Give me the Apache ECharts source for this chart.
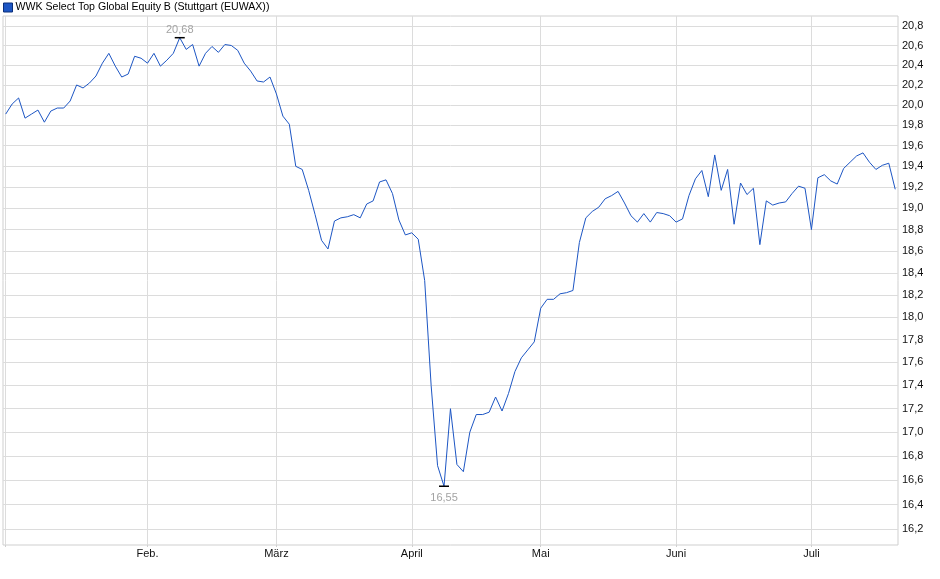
<!DOCTYPE html>
<html>
<head>
<meta charset="utf-8">
<script src="https://cdn.jsdelivr.net/npm/echarts@6/dist/echarts.min.js"></script>
<style>
html,body{margin:0;padding:0;background:#fff;}
#chart{width:940px;height:579px;}
</style>
</head>
<body>
<div id="chart"></div>
<script>
// Daily closing prices, trading days from 2 Jan to 18 Jul
var seriesName = 'WWK Select Top Global Equity B (Stuttgart (EUWAX))';
var values = [
 19.91,20.01,20.07,19.87,19.91,19.95,19.83,19.94,19.97,19.97,
 20.04,20.20,20.17,20.22,20.29,20.42,20.52,20.39,20.28,20.31,
 20.49,20.47,20.42,20.52,20.39,20.45,20.52,20.68,20.56,20.61,
 20.39,20.52,20.59,20.53,20.61,20.60,20.55,20.42,20.34,20.24,
 20.23,20.28,20.11,19.89,19.81,19.40,19.37,19.17,18.94,18.70,
 18.62,18.88,18.91,18.92,18.94,18.91,19.04,19.07,19.25,19.27,
 19.14,18.89,18.75,18.77,18.71,18.33,17.40,16.72,16.55,17.20,
 16.73,16.67,17.00,17.15,17.15,17.17,17.30,17.18,17.33,17.52,
 17.64,17.71,17.78,18.08,18.16,18.16,18.21,18.22,18.24,18.68,
 18.91,18.97,19.01,19.09,19.12,19.16,19.05,18.93,18.87,18.95,
 18.87,18.96,18.95,18.93,18.87,18.90,19.12,19.28,19.36,19.11,
 19.51,19.17,19.37,18.85,19.24,19.13,19.19,18.66,19.07,19.03,
 19.05,19.06,19.14,19.21,19.19,18.80,19.29,19.32,19.26,19.23,
 19.38,19.44,19.50,19.53,19.44,19.37,19.41,19.43,19.18
];
// index of first trading day of each month
var monthStarts = [0, 22, 42, 63, 83, 104, 125];
var monthLabels = ['', 'Feb.', 'März', 'April', 'Mai', 'Juni', 'Juli'];
var yTicks = [16.2,16.4,16.6,16.8,17.0,17.2,17.4,17.6,17.8,18.0,18.2,18.4,18.6,18.8,19.0,19.2,19.4,19.6,19.8,20.0,20.2,20.4,20.6,20.8];

var lineColor = '#1d56c4';
var font = '"Liberation Sans", Arial, sans-serif';
var data = values.map(function (v, i) { return [i, v]; });

var chart = echarts.init(document.getElementById('chart'));
chart.setOption({
  animation: false,
  backgroundColor: '#fff',
  textStyle: { fontFamily: font },
  legend: {
    left: 3, top: 2, padding: 0,
    itemWidth: 9, itemHeight: 9,
    data: [{ name: seriesName, icon: 'rect',
      itemStyle: { color: lineColor, borderColor: '#0b2f7a', borderWidth: 1 } }],
    textStyle: { fontSize: 10.6, color: '#000', fontFamily: font, padding: [0,0,0,-2] },
    selectedMode: false
  },
  grid: {
    left: 3, right: 42, top: 16, bottom: 34,
    show: true, borderColor: '#cfcfcf', borderWidth: 1, containLabel: false
  },
  xAxis: {
    type: 'value',
    min: -0.42, max: 138.43,
    axisLine: { show: false },
    axisTick: { show: true, length: 2, lineStyle: { color: '#cfcfcf' }, customValues: monthStarts },
    splitLine: { show: true, lineStyle: { color: '#dcdcdc', width: 1 } },
    axisLabel: {
      customValues: monthStarts.slice(1),
      fontSize: 11, color: '#111', margin: 3, fontFamily: font,
      formatter: function (v) {
        var k = monthStarts.indexOf(Math.round(v));
        return k >= 0 ? monthLabels[k] : '';
      }
    }
  },
  yAxis: {
    type: 'log', logBase: 10,
    position: 'right',
    min: 16.074, max: 20.904,
    axisLine: { show: false },
    axisTick: { show: false, customValues: yTicks },
    splitLine: { show: true, lineStyle: { color: '#dcdcdc', width: 1 } },
    axisLabel: {
      customValues: yTicks,
      fontSize: 11, color: '#111', margin: 4, fontFamily: font,
      formatter: function (v) { return Number(v).toFixed(1).replace('.', ','); }
    }
  },
  series: [{
    name: seriesName,
    type: 'line',
    data: data,
    showSymbol: false,
    symbol: 'none',
    color: lineColor,
    lineStyle: { color: lineColor, width: 1 },
    silent: true,
    markPoint: {
      symbol: 'rect',
      symbolSize: [10, 1.5],
      itemStyle: { color: '#000' },
      label: {
        show: true, fontSize: 11, color: '#a3a3a3', fontFamily: font,
        formatter: function (p) { return Number(p.value).toFixed(2).replace('.', ','); }
      },
      data: [
        { type: 'max', label: { position: 'top', distance: 1 } },
        { type: 'min', label: { position: 'bottom', distance: 5 } }
      ]
    }
  }]
});
</script>
</body>
</html>
